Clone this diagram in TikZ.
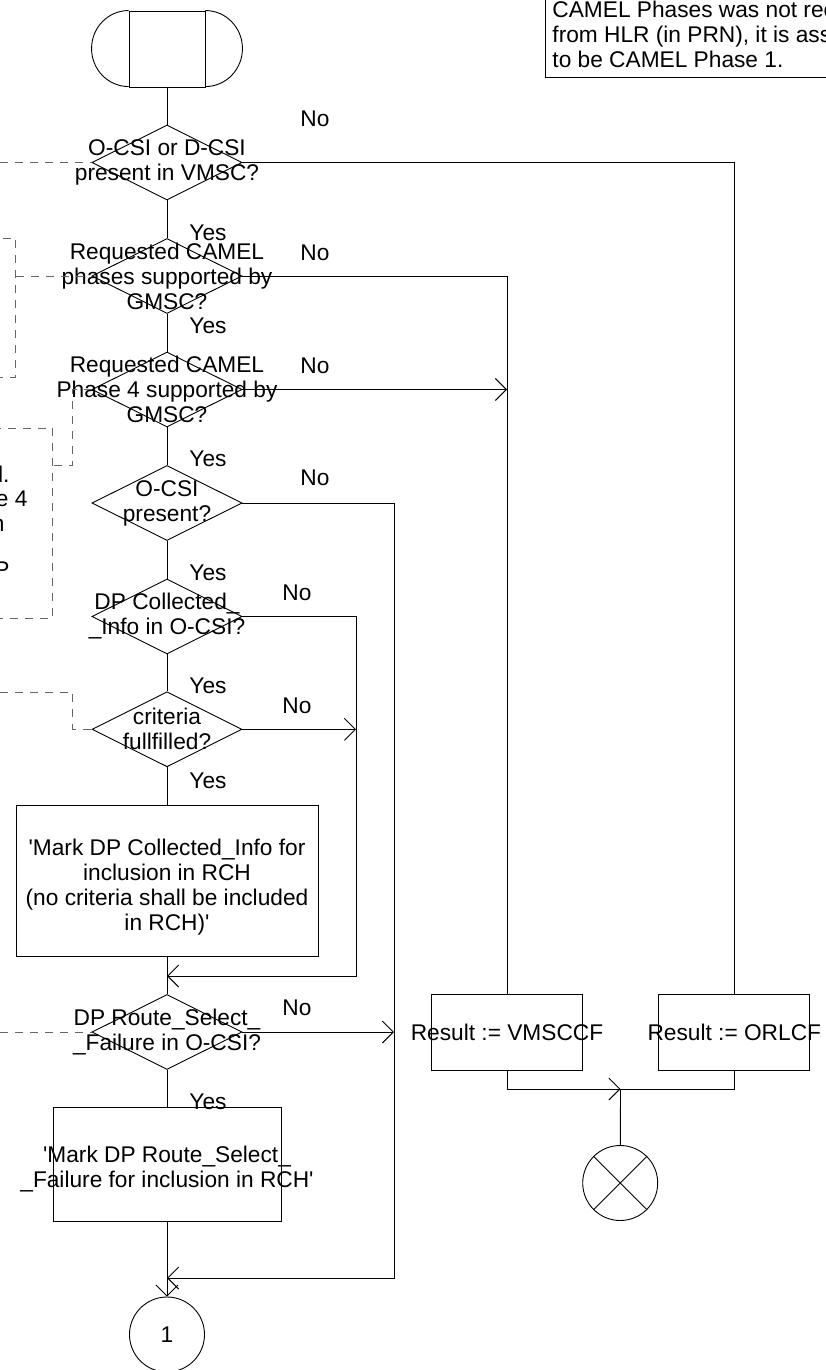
\documentclass[tikz,border=0pt]{standalone}
\usepackage{fontspec}
\setmainfont{Liberation Sans}
\usepackage{tikz}
\usetikzlibrary{arrows.meta,shapes.geometric,positioning,calc}

\begin{document}
\begin{tikzpicture}[
    x=1pt, y=-1pt, line width=0.9pt,
    font=\fontsize{22.7}{25}\selectfont,
    dec/.style={diamond, draw, minimum width=150pt, minimum height=75pt, inner sep=0pt},
    task/.style={draw, inner sep=0pt},
    txt/.style={align=center, inner sep=0pt},
    yn/.style={anchor=base west, inner sep=0pt},
    con/.style={circle, draw, minimum size=75pt, inner sep=0pt},
    cmt/.style={draw=black!60, dash pattern=on 8pt off 7pt},
    cmtbox/.style={cmt, inner sep=0pt},
    arr/.style={-{Straight Barb[length=11pt, width=22pt]}}
]
\useasboundingbox (0,0) rectangle (826,1370);
\clip (0,0) rectangle (826,1370);

\node[task, minimum width=76pt, minimum height=76pt] (start) at (167,49) {};
\draw (start.north west) arc[start angle=90, end angle=270, x radius=37pt, y radius=38pt];
\draw (start.north east) arc[start angle=90, end angle=-90, x radius=37pt, y radius=38pt];

\node[dec, label={[txt]center:{O-CSI or D-CSI\\present in VMSC?}}] (d1) at (167,162.5) {};
\node[dec, label={[txt]center:{Requested CAMEL\\phases supported by\\GMSC?}}] (d2) at (167,276) {};
\node[dec, label={[txt]center:{Requested CAMEL\\Phase 4 supported by\\GMSC?}}] (d3) at (167,389.5) {};
\node[dec, label={[txt]center:{O-CSI\\present?}}] (d4) at (167,503) {};
\node[dec, label={[txt]center:{DP Collected\_\\\_Info in O-CSI?}}] (d5) at (167,616.5) {};
\node[dec, label={[txt]center:{criteria\\fullfilled?}}] (d6) at (167,729.3) {};
\node[task, minimum width=302pt, minimum height=151pt,
      label={[txt, yshift=-6pt]center:{\textquotesingle Mark DP Collected\_Info for\\inclusion in RCH\\(no criteria shall be included\\in RCH)\textquotesingle}}] (box1) at (167,881.2) {};
\node[dec, label={[txt]center:{DP Route\_Select\_\\\_Failure in O-CSI?}}] (d7) at (167,1032) {};
\node[task, minimum width=228pt, minimum height=114pt,
      label={[txt, yshift=-5pt]center:{\textquotesingle Mark DP Route\_Select\_\\\_Failure for inclusion in RCH\textquotesingle}}] (box2) at (167,1164) {};
\node[con] (c1) at (167,1334.5) {1};

\node[task, minimum width=151pt, minimum height=76pt, label={[txt]center:{Result := VMSCCF}}] (vmsccf) at (507,1032) {};
\node[task, minimum width=151pt, minimum height=76pt, label={[txt]center:{Result := ORLCF}}] (orlcf) at (734.3,1032) {};
\node[con] (stop) at (620.2,1183) {};
\draw (stop.north west) -- (stop.south east);
\draw (stop.north east) -- (stop.south west);

\node[draw, minimum width=400pt, minimum height=200pt, anchor=south west, inner sep=0pt] (note) at (545,77.7) {};
\node[align=left, anchor=north west, inner sep=0pt] (notetxt) at (552,0.4)
  {CAMEL Phases was not received\\from HLR (in PRN), it is assumed\\to be CAMEL Phase 1.};

\node[cmtbox, minimum width=216pt, minimum height=139pt, anchor=north east] (noteA) at (16,238) {};
\node[cmtbox, minimum width=253pt, minimum height=190pt, anchor=north east] (noteB) at (53.3,428) {};
\node[anchor=base east, inner sep=0pt] (nb1) at (10,482) {received.};
\node[anchor=base east, inner sep=0pt] (nb2) at (28,506.5) {Phase 4};
\node[anchor=base east, inner sep=0pt] (nb3) at (5,531) {in};
\node[anchor=base east, inner sep=0pt] (nb4) at (10,577) {DP};

\node[yn] (no1) at (300,126.7) {No};
\node[yn] (no2) at (300,260) {No};
\node[yn] (no3) at (300,373.3) {No};
\node[yn] (no4) at (300,485) {No};
\node[yn] (no5) at (282,600) {No};
\node[yn] (no6) at (282,713) {No};
\node[yn] (no7) at (282,1015) {No};
\node[yn] (yes1) at (189,240) {Yes};
\node[yn] (yes2) at (189,333) {Yes};
\node[yn] (yes3) at (189,466.7) {Yes};
\node[yn] (yes4) at (189,580) {Yes};
\node[yn] (yes5) at (189,693) {Yes};
\node[yn] (yes6) at (189,788) {Yes};
\node[yn] (yes7) at (189,1109) {Yes};

\coordinate (m1) at (167,976);
\coordinate (m2) at (167,1278);
\coordinate (b1) at (356,976);
\coordinate (b2) at (394,1278);
\coordinate (jn) at (620.5,1089);
\coordinate (l1) at (0,162.5);
\coordinate (kB) at (72.7,465);
\coordinate (lC) at (0,692);
\coordinate (kC) at (72.7,692);
\coordinate (l7) at (0,1032);

\draw (start) -- (d1);
\draw (d1) -- (d2);
\draw (d2) -- (d3);
\draw (d3) -- (d4);
\draw (d4) -- (d5);
\draw (d5) -- (d6);
\draw (d6) -- (box1);
\draw (box1) -- (d7);
\draw (d7) -- (box2);
\draw[arr] (box2) -- (c1);

\draw (d1.east) -| (orlcf.north);
\draw (d2.east) -| (vmsccf.north);
\draw[arr] (d3.east) -- (d3.east -| vmsccf.north);
\draw[arr] (d4.east) -| (b2) -- (m2);
\draw[arr] (d5.east) -| (b1) -- (m1);
\draw[arr] (d6.east) -- (d6.east -| b1);
\draw[arr] (d7.east) -- (d7.east -| b2);

\draw[arr] (vmsccf.south) |- (jn);
\draw (orlcf.south) |- (jn);
\draw (jn) -- (stop);

\draw[cmt] (l1) -- (d1.west);
\draw[cmt] (noteA.east |- d2.west) -- (d2.west);
\draw[cmt] (d3.west) -| (kB) -- (kB -| noteB.east);
\draw[cmt] (lC) -- (kC) |- (d6.west);
\draw[cmt] (l7) -- (d7.west);
\end{tikzpicture}
\end{document}
